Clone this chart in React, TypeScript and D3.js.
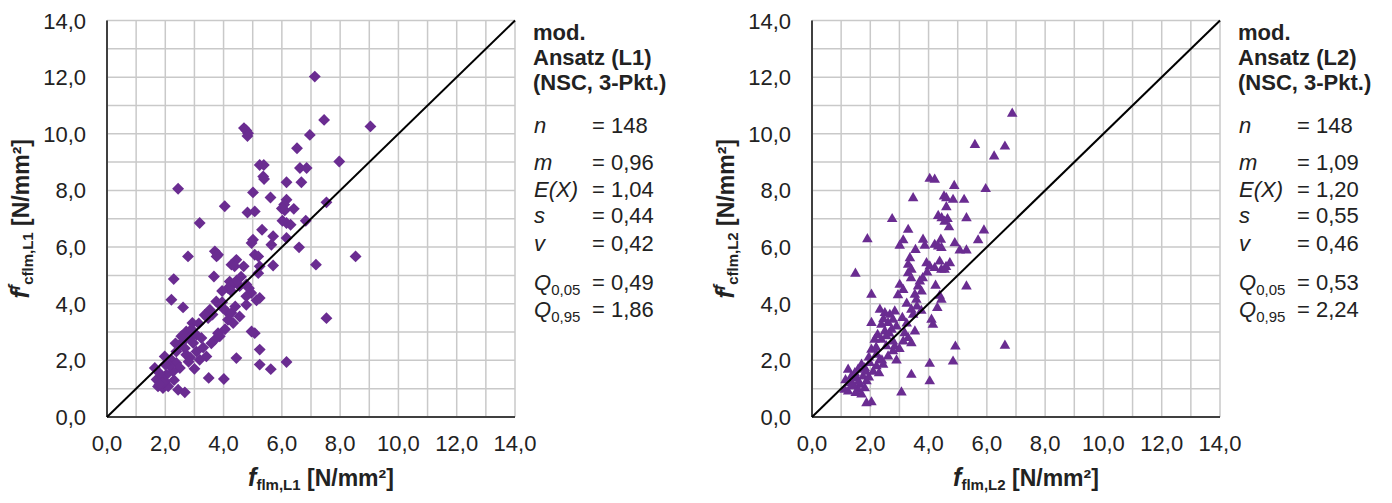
import React from "react";
import * as d3 from "d3";

const leftPoints: [number, number][] = [
  [7.13,12.02],[7.45,10.49],[9.04,10.26],[4.70,10.20],[4.78,10.12],[4.84,10.02],[4.82,9.92],[6.96,9.96],
  [6.52,9.49],[7.97,9.02],[5.24,8.90],[5.38,8.90],[6.62,8.79],[6.85,8.79],[5.36,8.49],[5.39,8.40],
  [6.16,8.29],[6.67,8.29],[2.44,8.06],[5.01,7.93],[5.61,7.75],[6.16,7.67],[6.08,7.50],[6.00,7.36],
  [6.10,7.30],[6.41,7.35],[7.53,7.58],[4.04,7.44],[4.82,7.22],[5.07,7.26],[3.18,6.85],[6.02,6.93],
  [6.16,6.85],[6.30,6.79],[6.82,6.93],[5.32,6.61],[5.70,6.38],[5.64,6.08],[5.01,6.26],[4.96,6.14],
  [6.16,6.32],[6.59,5.99],[3.70,5.85],[3.81,5.73],[3.76,5.67],[2.78,5.67],[5.07,5.73],[5.19,5.67],
  [8.53,5.67],[4.44,5.55],[4.27,5.38],[4.38,5.32],[4.69,5.32],[5.70,5.35],[7.17,5.38],[5.24,5.32],
  [5.19,5.08],[3.67,4.96],[2.29,4.87],[4.21,4.78],[4.33,4.69],[4.15,4.55],[4.55,4.62],[4.78,4.68],
  [4.87,4.55],[4.95,4.38],[4.78,4.26],[4.27,4.44],[4.45,4.82],[2.21,4.14],[5.24,4.20],[5.13,4.12],
  [4.78,3.96],[3.75,4.08],[3.87,3.96],[3.98,3.85],[4.10,3.73],[4.27,3.67],[4.15,3.43],[4.33,3.32],
  [4.55,3.55],[3.53,3.79],[3.47,3.49],[3.95,4.05],[4.40,3.90],[3.62,3.62],[2.61,3.87],[7.53,3.49],
  [2.93,3.32],[4.96,3.02],[5.07,2.96],[2.72,3.02],[2.84,2.79],[3.07,2.90],[3.24,2.79],[2.96,2.61],
  [2.61,2.67],[2.67,2.43],[2.38,2.31],[3.07,2.31],[3.41,2.14],[3.18,2.02],[2.72,2.20],[2.50,2.55],
  [2.85,2.10],[3.30,2.45],[3.70,2.73],[3.87,2.85],[3.81,2.96],[3.58,2.60],[5.24,2.38],[4.44,2.08],
  [1.98,2.14],[2.21,2.02],[2.38,1.91],[2.50,1.73],[2.27,1.61],[2.04,1.49],[1.87,1.38],[1.70,1.32],
  [1.64,1.73],[1.75,1.08],[1.92,1.02],[2.10,1.08],[1.80,1.55],[2.15,1.80],[2.00,1.25],[2.30,1.30],
  [5.24,1.85],[5.62,1.69],[6.16,1.94],[3.49,1.38],[4.01,1.34],[2.44,0.96],[2.67,0.87],[2.90,3.10],
  [3.15,3.30],[3.35,3.60],[2.55,2.85],[2.00,1.85],[1.90,1.20],[3.95,4.45],[4.60,4.95],[2.80,1.95],
  [3.00,1.70],[2.35,2.60],[4.05,3.10],[1.80,1.15]
];

const rightPoints: [number, number][] = [
  [6.87,10.71],[5.59,9.61],[6.62,9.55],[6.25,9.20],[4.04,8.41],[4.21,8.38],[4.88,8.16],[5.96,8.05],
  [3.47,7.73],[4.53,7.79],[4.61,7.73],[4.84,7.67],[5.22,7.67],[4.61,7.41],[4.33,7.10],[4.45,7.02],
  [4.65,6.99],[4.55,6.90],[5.30,7.02],[2.75,6.99],[3.30,6.61],[5.90,6.59],[1.90,6.28],[3.13,6.24],
  [3.01,6.05],[5.70,6.24],[3.81,6.26],[3.87,6.05],[4.21,6.08],[4.33,6.02],[4.42,6.26],[4.44,5.97],
  [4.90,6.14],[5.07,5.88],[5.30,5.88],[3.36,5.61],[3.30,5.38],[3.41,5.20],[3.30,5.08],[3.93,5.43],
  [4.04,5.32],[4.21,5.26],[4.38,5.49],[4.44,5.20],[4.55,5.20],[4.73,5.43],[1.49,5.06],[3.70,4.79],
  [3.64,4.61],[3.76,4.43],[3.01,4.67],[3.13,4.49],[3.53,4.32],[3.58,4.14],[4.24,4.64],[5.30,4.61],
  [2.04,4.32],[4.38,4.28],[4.44,4.14],[4.30,3.85],[2.33,3.79],[2.50,3.67],[2.67,3.61],[2.78,3.44],
  [2.84,3.73],[2.61,3.32],[2.38,3.26],[2.04,3.32],[2.50,3.02],[2.73,3.08],[3.41,3.79],[3.47,3.61],
  [4.10,3.44],[4.15,3.26],[3.18,2.96],[3.53,3.02],[3.30,2.79],[3.41,2.61],[3.13,2.67],[2.15,2.73],
  [2.38,2.73],[2.55,2.85],[2.78,2.67],[2.84,2.49],[2.78,2.32],[2.61,2.14],[4.92,2.49],[6.62,2.52],
  [4.84,1.96],[4.04,1.88],[2.04,2.38],[2.21,2.20],[2.33,2.02],[2.44,1.85],[2.21,1.79],[1.98,1.91],
  [1.81,1.73],[1.70,1.85],[1.58,1.67],[1.47,1.55],[1.24,1.67],[1.35,1.43],[1.52,1.37],[1.75,1.43],
  [1.87,1.26],[1.64,1.14],[1.41,1.08],[1.12,0.96],[1.24,0.90],[1.58,0.96],[1.81,1.02],[3.41,1.49],
  [4.04,1.26],[3.07,0.87],[1.87,0.49],[2.04,0.52],[2.95,4.30],[3.25,4.00],[2.45,3.45],[2.90,3.20],
  [3.00,2.40],[2.20,2.45],[2.55,2.50],[1.95,2.10],[2.10,1.60],[1.60,1.25],[1.30,1.20],[1.95,1.40],
  [2.30,1.55],[1.50,0.85],[1.70,0.80],[3.10,3.50],[3.60,3.90],[3.80,4.90],[2.65,2.95],[2.40,2.00],
  [1.15,1.30],[3.95,5.10],[4.60,5.30],[3.25,3.30],[1.85,1.60],[2.90,2.00],[4.70,6.70],[3.55,5.90],
  [3.40,4.90],[2.25,2.90],[1.40,1.15],[3.75,3.75]
];

const axisDomain: [number, number] = [0, 14];
const majorTicks = [0, 2, 4, 6, 8, 10, 12, 14];
const gridTicks = d3.range(0, 15, 1);

const headerL = ["mod.", "Ansatz (L1)", "(NSC, 3-Pkt.)"];
const headerR = ["mod.", "Ansatz (L2)", "(NSC, 3-Pkt.)"];
const statLabels = ["n", "m", "E(X)", "s", "v"];
const statsL = ["148", "0,96", "1,04", "0,44", "0,42"];
const statsR = ["148", "1,09", "1,20", "0,55", "0,46"];
const quantSubs = ["0,05", "0,95"];
const quantL = ["0,49", "1,86"];
const quantR = ["0,53", "2,24"];

const FONT = "'Liberation Sans', Arial, Helvetica, sans-serif";
const PURPLE = "#6a2c91";
const fmt = d3.formatLocale({ decimal: ",", thousands: ".", grouping: [3], currency: ["", "€"] }).format(".1f");

const diamond = d3.symbol().type(d3.symbolDiamond2).size(90)()!;
const triangle = d3.symbol().type(d3.symbolTriangle2).size(80)()!;

type PanelProps = {
  x0: number;
  points: [number, number][];
  marker: "diamond" | "triangle";
  sub: string;
  header: string[];
  stats: string[];
  quants: string[];
};

function Panel({ x0, points, marker, sub, header, stats, quants }: PanelProps) {
  const x = d3.scaleLinear().domain(axisDomain).range([x0, x0 + 408]);
  const y = d3.scaleLinear().domain(axisDomain).range([417, 20.5]);
  const tx = x0 + 426;
  const eqX = x0 + 485;
  const statY = [133, 170, 197, 223, 251];
  const qY = [290, 317];
  const path = marker === "diamond" ? diamond : triangle;
  const cx = (x(0) + x(14)) / 2;
  const cy = (y(0) + y(14)) / 2;
  return (
    <g>
      {gridTicks.map((t) => (
        <line key={"gx" + t} x1={x(t)} x2={x(t)} y1={y(0)} y2={y(14)} stroke="#c9c9c9" strokeWidth={1.5} />
      ))}
      {gridTicks.map((t) => (
        <line key={"gy" + t} x1={x(0)} x2={x(14)} y1={y(t)} y2={y(t)} stroke="#c9c9c9" strokeWidth={1.5} />
      ))}
      <line x1={x(0)} x2={x(0)} y1={y(0)} y2={y(14)} stroke="#404040" strokeWidth={2} />
      <line x1={x(0)} x2={x(14)} y1={y(0)} y2={y(0)} stroke="#404040" strokeWidth={2} />
      {points.map(([px, py], i) => (
        <path key={i} d={path} transform={`translate(${x(px)},${y(py)})`} fill={PURPLE} />
      ))}
      <line x1={x(0)} x2={x(14)} y1={y(0)} y2={y(14)} stroke="#000" strokeWidth={2} />
      {majorTicks.map((t) => (
        <text key={"yt" + t} x={x0 - 21} y={y(t) + 8} textAnchor="end" fontSize={22} fontFamily={FONT} fill="#222">
          {fmt(t)}
        </text>
      ))}
      {majorTicks.map((t) => (
        <text key={"xt" + t} x={x(t)} y={451} textAnchor="middle" fontSize={22} fontFamily={FONT} fill="#222">
          {fmt(t)}
        </text>
      ))}
      <text x={cx + 10} y={486} textAnchor="middle" fontSize={23} fontFamily={FONT} fontWeight="bold" fill="#222">
        <tspan fontStyle="italic" fontSize={25}>f</tspan>
        <tspan fontSize={15} dy={4}>{"flm," + sub}</tspan>
        <tspan dy={-4}>{" [N/mm²]"}</tspan>
      </text>
      <text
        transform={`translate(${x0 - 78},${cy}) rotate(-90)`}
        textAnchor="middle"
        fontSize={23}
        fontFamily={FONT}
        fontWeight="bold"
        fill="#222"
      >
        <tspan fontStyle="italic" fontSize={25}>f</tspan>
        <tspan fontStyle="italic" fontSize={16} dy={-9}>f</tspan>
        <tspan fontSize={15} dy={13}>{"cflm," + sub}</tspan>
        <tspan dy={-4}>{" [N/mm²]"}</tspan>
      </text>
      {header.map((h, i) => (
        <text key={"h" + i} x={tx} y={40 + i * 25} fontSize={22} fontWeight="bold" fontFamily={FONT} fill="#222">
          {h}
        </text>
      ))}
      {statLabels.map((l, i) => (
        <g key={"s" + i}>
          <text x={tx + 1} y={statY[i]} fontSize={22} fontStyle="italic" fontFamily={FONT} fill="#222">{l}</text>
          <text x={eqX} y={statY[i]} fontSize={22} fontFamily={FONT} fill="#222">{"= " + stats[i]}</text>
        </g>
      ))}
      {quantSubs.map((q, i) => (
        <g key={"q" + i}>
          <text x={tx + 1} y={qY[i]} fontSize={22} fontFamily={FONT} fill="#222">
            <tspan fontStyle="italic">Q</tspan>
            <tspan fontSize={15} dy={5}>{q}</tspan>
          </text>
          <text x={eqX} y={qY[i]} fontSize={22} fontFamily={FONT} fill="#222">{"= " + quants[i]}</text>
        </g>
      ))}
    </g>
  );
}

export default function App() {
  return (
    <svg width={1392} height={503} style={{ position: "absolute", left: 0, top: 0, background: "#fff" }}>
      <rect width={1392} height={503} fill="#fff" />
      <Panel x0={107} points={leftPoints} marker="diamond" sub="L1" header={headerL} stats={statsL} quants={quantL} />
      <Panel x0={812} points={rightPoints} marker="triangle" sub="L2" header={headerR} stats={statsR} quants={quantR} />
    </svg>
  );
}
